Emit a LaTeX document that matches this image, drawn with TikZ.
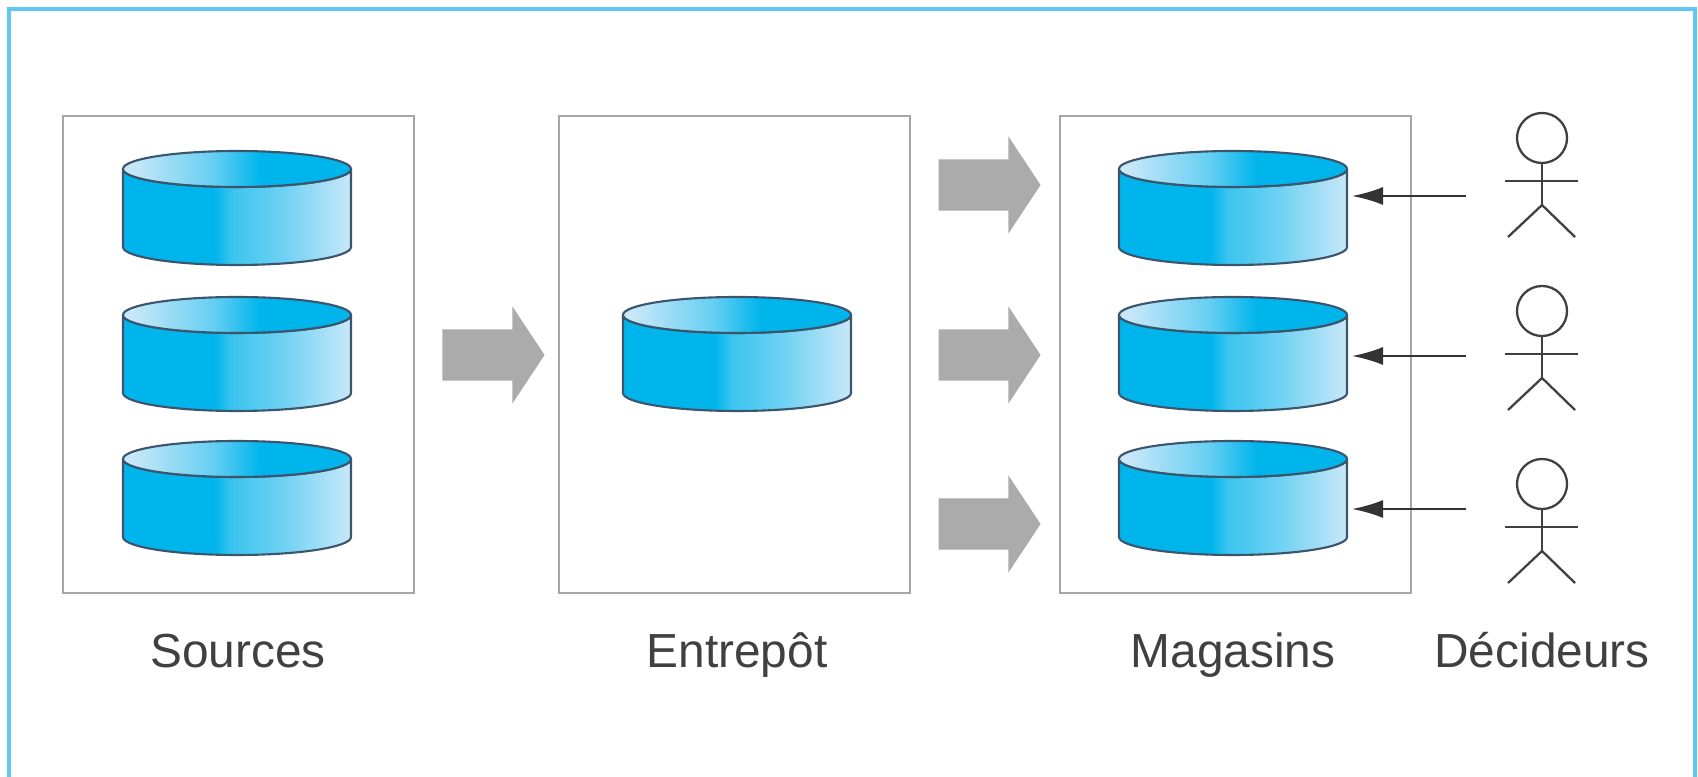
\documentclass[tikz,border=0pt]{standalone}
\usepackage{fontspec}
\setmainfont{Liberation Sans}
\usetikzlibrary{shapes.arrows,arrows.meta}
\definecolor{cadre}{RGB}{95,200,240}
\definecolor{bleu}{RGB}{0,181,236}
\definecolor{pale}{RGB}{200,232,248}
\definecolor{contour}{RGB}{60,85,110}
\pgfdeclarehorizontalshading{corps}{100bp}{color(0bp)=(bleu); color(25bp)=(bleu); color(45bp)=(bleu); color(49bp)=(bleu!70!pale); color(60bp)=(bleu!45!pale); color(75bp)=(pale); color(100bp)=(pale)}
\pgfdeclarehorizontalshading{dessus}{100bp}{color(0bp)=(pale); color(27bp)=(pale); color(45bp)=(bleu!50!pale); color(55bp)=(bleu); color(100bp)=(bleu)}
\tikzset{x=.01cm,y=-.01cm}
\tikzset{boite/.style={draw=black!35,line width=.6pt}}
\tikzset{fleche/.style={single arrow,fill=black!33,draw=none,inner xsep=0pt,inner ysep=0pt,outer sep=0pt,text height=.5cm,text depth=0pt,minimum height=1.02cm,single arrow head extend=.23cm,single arrow tip angle=113}}
\tikzset{trait/.style={color=black!75,line width=.65pt}}
\tikzset{renvoi/.style={color=black!80,line width=.6pt,-{Latex[length=.31cm,width=.18cm]}}}
\tikzset{legende/.style={font=\fontsize{13.6pt}{17pt}\selectfont,text=black!75,inner sep=0pt,anchor=base}}
\tikzset{bdd/.pic={
    \path[shading=corps,draw=contour,line width=.6pt,line join=round] (-114,18) -- (-114,96) arc[start angle=180,end angle=360,x radius=114,y radius=-18] -- (114,18) arc[start angle=0,end angle=-180,x radius=114,y radius=-18] -- cycle;
    \path[shading=dessus,draw=contour,line width=.6pt] (0,18) ellipse[x radius=114,y radius=18];
}}
\tikzset{acteur/.pic={
    \node[draw=black!75,circle,line width=.65pt,minimum size=.5cm,inner sep=0pt] (-tete) at (0,0) {};
    \coordinate (-bas) at (0,67);
    \draw[trait] (-tete.south) -- (-bas);
    \draw[trait] (-37,43) -- (36,43);
    \draw[trait] (-34,99) -- (-bas) -- (33,99);
}}
\begin{document}
\begin{tikzpicture}
  \useasboundingbox (0,0) rectangle (1698,777);
  \draw[cadre,line width=1.3pt] (9,777) -- (9,9) -- (1695,9) -- (1695,777);

  % boites
  \draw[boite] (63,116) rectangle (414,593);
  \draw[boite] (559,116) rectangle (910,593);
  \draw[boite] (1060,116) rectangle (1411,593);

  % bases
  \pic (srcA) at (237,151) {bdd};
  \pic (srcB) at (237,297) {bdd};
  \pic (srcC) at (237,441) {bdd};
  \pic (ent) at (737,297) {bdd};
  \pic (magA) at (1233,151) {bdd};
  \pic (magB) at (1233,297) {bdd};
  \pic (magC) at (1233,441) {bdd};

  % grosses fleches
  \node[fleche] (fl0) at (485,355) {};
  \node[fleche] (fl1) at (981,185) {};
  \node[fleche] (fl2) at (981,355) {};
  \node[fleche] (fl3) at (981,524) {};

  % decideurs
  \pic (decA) at (1542,138) {acteur};
  \pic (decB) at (1542,311) {acteur};
  \pic (decC) at (1542,484) {acteur};

  \coordinate (deA) at (1466,196);
  \coordinate (deB) at (1466,356);
  \coordinate (deC) at (1466,509);
  \coordinate (versA) at (1352,196);
  \coordinate (versB) at (1352,356);
  \coordinate (versC) at (1352,509);
  \draw[renvoi] (deA) -- (versA);
  \draw[renvoi] (deB) -- (versB);
  \draw[renvoi] (deC) -- (versC);

  % legendes
  \node[legende] (sources) at (238,668) {Sources};
  \node[legende] (entrepot) at (737,668) {Entrepôt};
  \node[legende] (magasins) at (1233,668) {Magasins};
  \node[legende] (decideurs) at (1542,668) {Décideurs};
\end{tikzpicture}
\end{document}
